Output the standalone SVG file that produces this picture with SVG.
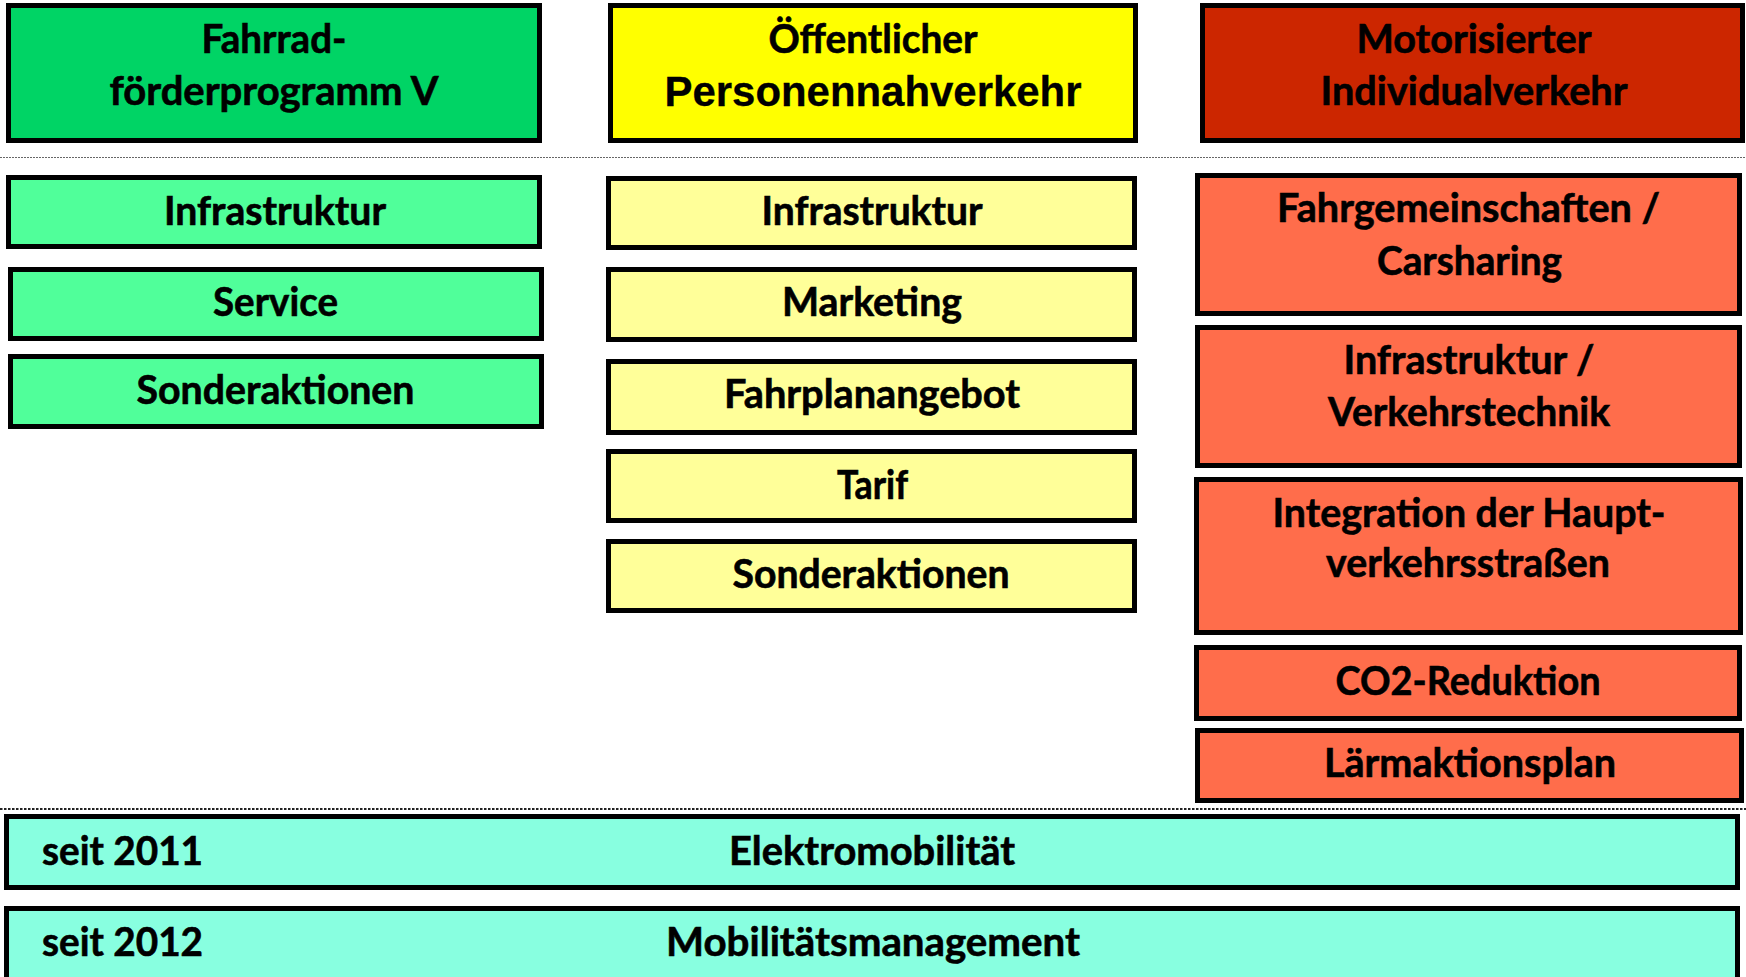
<svg xmlns="http://www.w3.org/2000/svg" width="1746" height="977" viewBox="0 0 1746 977">
<style>
rect.b{stroke:#000;stroke-width:5}
.gH{fill:#00D465}.gL{fill:#50FF9A}
.yH{fill:#FFFF00}.yL{fill:#FFFF99}
.rH{fill:#CC2600}.rL{fill:#FF6D4B}
.cB{fill:#88FFE0}
text{font-family:Lato,"Open Sans","Liberation Sans",sans-serif;font-weight:bold;font-size:39.5px;fill:#000;stroke:#000;stroke-width:0.6;text-anchor:middle}
text.arial{font-family:"Liberation Sans",Arial,sans-serif;font-size:42px;stroke-width:0.3}
text.l{text-anchor:start}
.sep1{stroke:#666;stroke-width:1.2;stroke-dasharray:2 1;fill:none}
.sep2{stroke:#222;stroke-width:2;stroke-dasharray:2.5 1.5;fill:none}
</style>
<rect width="1746" height="977" fill="#fff"/>
<g id="separators">
<line class="sep1" x1="0" y1="157.5" x2="1746" y2="157.5"/>
<line class="sep2" x1="0" y1="809" x2="1746" y2="809"/>
</g>
<g id="fahrrad-header"><rect class="b gH" x="8.5" y="5.5" width="531" height="135"/>
<text x="274" y="53" textLength="145" lengthAdjust="spacingAndGlyphs">Fahrrad-</text>
<text x="274" y="105" textLength="329" lengthAdjust="spacingAndGlyphs">förderprogramm V</text></g>
<g id="fahrrad-infrastruktur"><rect class="b gL" x="8.5" y="177.5" width="531" height="69"/>
<text x="275" y="225" textLength="222" lengthAdjust="spacingAndGlyphs">Infrastruktur</text></g>
<g id="fahrrad-service"><rect class="b gL" x="10.5" y="269.5" width="531" height="69"/>
<text x="275.5" y="316" textLength="125" lengthAdjust="spacingAndGlyphs">Service</text></g>
<g id="fahrrad-sonderaktionen"><rect class="b gL" x="10.5" y="356.5" width="531" height="70"/>
<text x="275.5" y="404" textLength="278" lengthAdjust="spacingAndGlyphs">Sonderaktionen</text></g>
<g id="oepnv-header"><rect class="b yH" x="610.5" y="5.5" width="525" height="135"/>
<text x="873" y="53" textLength="209" lengthAdjust="spacingAndGlyphs">Öffentlicher</text>
<text class="arial" x="873" y="106" textLength="417" lengthAdjust="spacingAndGlyphs">Personennahverkehr</text></g>
<g id="oepnv-infrastruktur"><rect class="b yL" x="608.5" y="178.5" width="526" height="69"/>
<text x="872" y="225" textLength="221" lengthAdjust="spacingAndGlyphs">Infrastruktur</text></g>
<g id="oepnv-marketing"><rect class="b yL" x="608.5" y="269.5" width="526" height="70"/>
<text x="872" y="316" textLength="180" lengthAdjust="spacingAndGlyphs">Marketing</text></g>
<g id="oepnv-fahrplanangebot"><rect class="b yL" x="608.5" y="361.5" width="526" height="71"/>
<text x="872" y="408" textLength="296" lengthAdjust="spacingAndGlyphs">Fahrplanangebot</text></g>
<g id="oepnv-tarif"><rect class="b yL" x="608.5" y="451.5" width="526" height="69"/>
<text x="872.5" y="499" textLength="71" lengthAdjust="spacingAndGlyphs">Tarif</text></g>
<g id="oepnv-sonderaktionen"><rect class="b yL" x="608.5" y="541.5" width="526" height="69"/>
<text x="871" y="588" textLength="277" lengthAdjust="spacingAndGlyphs">Sonderaktionen</text></g>
<g id="miv-header"><rect class="b rH" x="1202.5" y="5.5" width="540" height="135"/>
<text x="1474" y="53" textLength="235" lengthAdjust="spacingAndGlyphs">Motorisierter</text>
<text x="1474" y="105" textLength="307" lengthAdjust="spacingAndGlyphs">Individualverkehr</text></g>
<g id="miv-fahrgemeinschaften"><rect class="b rL" x="1197.5" y="175.5" width="542" height="138"/>
<text x="1468.5" y="222" textLength="383" lengthAdjust="spacingAndGlyphs">Fahrgemeinschaften /</text>
<text x="1469.5" y="275" textLength="185" lengthAdjust="spacingAndGlyphs">Carsharing</text></g>
<g id="miv-infrastruktur"><rect class="b rL" x="1197.5" y="327.5" width="542" height="138"/>
<text x="1469" y="374" textLength="251" lengthAdjust="spacingAndGlyphs">Infrastruktur /</text>
<text x="1469" y="426" textLength="282" lengthAdjust="spacingAndGlyphs">Verkehrstechnik</text></g>
<g id="miv-integration"><rect class="b rL" x="1196.5" y="479.5" width="544" height="153"/>
<text x="1469" y="527" textLength="393" lengthAdjust="spacingAndGlyphs">Integration der Haupt-</text>
<text x="1468" y="577" textLength="284" lengthAdjust="spacingAndGlyphs">verkehrsstraßen</text></g>
<g id="miv-co2"><rect class="b rL" x="1196.5" y="647.5" width="543" height="71"/>
<text x="1468" y="695" textLength="265" lengthAdjust="spacingAndGlyphs">CO2-Reduktion</text></g>
<g id="miv-laerm"><rect class="b rL" x="1197.5" y="730.5" width="544" height="70"/>
<text x="1470" y="777" textLength="292" lengthAdjust="spacingAndGlyphs">Lärmaktionsplan</text></g>
<g id="elektromobilitaet"><rect class="b cB" x="6.5" y="816.5" width="1731" height="71"/>
<text class="l" x="42" y="865" textLength="161" lengthAdjust="spacingAndGlyphs">seit 2011</text>
<text x="872" y="865" textLength="286" lengthAdjust="spacingAndGlyphs">Elektromobilität</text></g>
<g id="mobilitaetsmanagement"><rect class="b cB" x="6.5" y="908.5" width="1731" height="90"/>
<text class="l" x="42" y="956" textLength="161" lengthAdjust="spacingAndGlyphs">seit 2012</text>
<text x="873" y="956" textLength="414" lengthAdjust="spacingAndGlyphs">Mobilitätsmanagement</text></g>
</svg>
